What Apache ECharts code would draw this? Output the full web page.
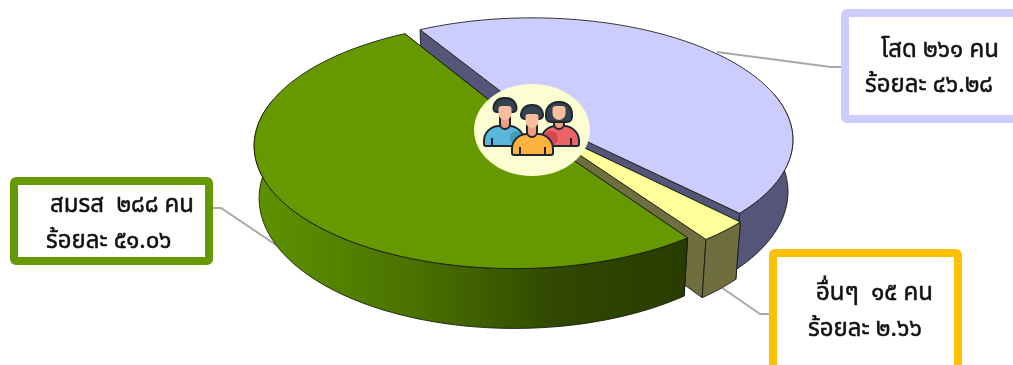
<!DOCTYPE html>
<html>
<head>
<meta charset="utf-8">
<style>html,body{margin:0;padding:0;background:#fff}#main{width:1013px;height:365px}</style>
<script src="https://cdn.jsdelivr.net/npm/echarts@6/dist/echarts.min.js"></script>
</head>
<body>
<div id="main"></div>
<script>
// Marital status of respondents (persons and percent)
const categories = ['โสด', 'อื่นๆ', 'สมรส'];
const counts = [261, 15, 288];
const percents = ['46.28', '2.66', '51.06'];
const unitLabel = 'คน';
const percentLabel = 'ร้อยละ';

const topColors = ['#ccccff', '#ffff99', '#669900'];
const cutColors = ['#55557a', '#6e6e40', '#2c4200'];

// Perspective pie geometry
const view = { cx: 525, cy: 119, rx: 256, ry: 118, k: 0.19, m: 0.018, depth: 52,
               startDeg: -120.7, explode: 0.04 };
const total = counts.reduce((a, b) => a + b, 0);

function project(x, y, z) {
  const s = 1 / (1 - view.k * y + view.m * z);
  return [view.cx + view.rx * x * s, view.cy + view.ry * y * s + view.depth * z * s];
}

const thaiDigits = '๐๑๒๓๔๕๖๗๘๙';
const toThai = (v) => String(v).replace(/\d/g, (d) => thaiDigits[+d]);

function sliceShapes(index, value) {
  const before = counts.slice(0, index).reduce((a, b) => a + b, 0);
  const a0 = (view.startDeg + before / total * 360) * Math.PI / 180;
  const a1 = a0 + value / total * 2 * Math.PI;
  const mid = (a0 + a1) / 2;
  const ox = Math.cos(mid) * view.explode;
  const oy = Math.sin(mid) * view.explode;
  const steps = Math.max(6, Math.ceil((a1 - a0) * 40));
  const angles = [];
  for (let i = 0; i <= steps; i++) angles.push(a0 + (a1 - a0) * i / steps);
  const arc = (list, z) => list.map((t) => project(ox + Math.cos(t), oy + Math.sin(t), z));
  const apex = (z) => project(ox, oy, z);
  const top = arc(angles, 0), bottom = arc(angles, 1);
  // The rim is only seen on the near part of the circle
  const near = angles.filter((t) => Math.sin(t) > -0.2);
  return {
    top: [apex(0)].concat(top),
    side: arc(near, 0).concat(arc(near, 1).reverse()),
    cutA: [apex(0), top[0], bottom[0], apex(1)],
    cutB: [apex(0), top[steps], bottom[steps], apex(1)]
  };
}

const outline = { stroke: 'rgba(20,25,10,0.85)', lineWidth: 1 };

function sideFill(index) {
  if (index !== 2) return cutColors[index];
  return new echarts.graphic.LinearGradient(0, 0, 1, 0, [
    { offset: 0, color: '#5f9300' },
    { offset: 0.35, color: '#4b7400' },
    { offset: 0.7, color: '#304800' },
    { offset: 1, color: '#293c00' }
  ]);
}

function renderSlice(params, api) {
  const i = params.dataIndex;
  const s = sliceShapes(i, api.value(0));
  const poly = (points, fill) => ({ type: 'polygon', shape: { points }, style: Object.assign({ fill }, outline) });
  return {
    type: 'group',
    children: [
      poly(s.cutA, cutColors[i]),
      poly(s.cutB, cutColors[i]),
      poly(s.side, sideFill(i)),
      poly(s.top, topColors[i])
    ]
  };
}

// Label boxes and leader lines
const boxes = [
  { x: 841, y: 9, w: 200, h: 114, color: '#ccccff', cat: 0, tx: 881, ty: 52, px: 865, py: 87,
    leader: [[841, 67], [831, 67], [717, 52]] },
  { x: 769, y: 249, w: 193, h: 140, color: '#ffc000', cat: 1, tx: 816, ty: 295, px: 808, py: 331,
    leader: [[769, 314], [760, 314], [718, 285]] },
  { x: 10, y: 177, w: 203, h: 88, color: '#669900', cat: 2, tx: 50, ty: 207, px: 46, py: 243,
    leader: [[213, 208], [221, 208], [285, 251]] }
];
const font = '24px "Noto Sans Thai", "Noto Sans", "Noto Sans CJK SC", sans-serif';
const gapText = [' ', '  ', '  '];
const textStyle = { font, fill: '#111', stroke: '#111', lineWidth: 0.5, textVerticalAlign: 'middle' };

const graphics = [];
boxes.forEach((b) => {
  graphics.push({ type: 'polyline', z: 1, shape: { points: b.leader }, style: { stroke: '#a8a8a8', lineWidth: 2, fill: null } });
  graphics.push({ type: 'rect', z: 100, shape: { x: b.x + 4, y: b.y + 4, width: b.w - 8, height: b.h - 8, r: 2 },
    style: { fill: '#fff', stroke: b.color, lineWidth: 8 } });
  graphics.push({ type: 'text', z: 101, style: Object.assign({ x: b.tx, y: b.ty,
    text: categories[b.cat] + gapText[b.cat] + toThai(counts[b.cat]) + ' ' + unitLabel }, textStyle) });
  graphics.push({ type: 'text', z: 101, style: Object.assign({ x: b.px, y: b.py,
    text: percentLabel + ' ' + toThai(percents[b.cat]) }, textStyle) });
});

// Centre badge: three people on a pale oval
const ink = '#1d2730', hair = '#34444f', skin = '#f9bd9f';
function person(p, z) {
  const l = { lineWidth: 2, stroke: ink };
  const parts = [];
  parts.push({ type: 'rect', z, shape: { x: p.x0, y: p.shirtTop, width: p.x1 - p.x0, height: p.bottom - p.shirtTop, r: [15, 15, 2, 2] },
    style: Object.assign({ fill: p.shirt }, l) });
  parts.push({ type: 'line', z, shape: { x1: p.x0 + 8, y1: p.bottom - 8, x2: p.x0 + 8, y2: p.bottom }, style: l });
  parts.push({ type: 'line', z, shape: { x1: p.x1 - 8, y1: p.bottom - 8, x2: p.x1 - 8, y2: p.bottom }, style: l });
  parts.push({ type: 'rect', z, shape: { x: p.cx - 5, y: p.faceBottom - 6, width: 10, height: p.shirtTop - p.faceBottom + 9, r: [0, 0, 5, 5] },
    style: Object.assign({ fill: '#ee9f80' }, l) });
  parts.push({ type: 'rect', z, shape: { x: p.cx - p.hairW / 2, y: p.hairTop, width: p.hairW, height: p.hairH, r: [12, 12, p.long ? 5 : 4, p.long ? 5 : 4] },
    style: Object.assign({ fill: hair }, l) });
  parts.push({ type: 'rect', z, shape: { x: p.cx - 6.5, y: p.faceBottom - 14, width: 13, height: 14, r: [3, 3, 7, 7] }, style: { fill: skin } });
  return parts;
}
graphics.push({ type: 'ellipse', z: 110, shape: { cx: 532, cy: 130, rx: 58, ry: 46 }, style: { fill: '#fdfdd2' } });
person({ cx: 559, x0: 541, x1: 579, shirtTop: 126, bottom: 146, shirt: '#ec6468', hairTop: 102, hairW: 26, hairH: 20, faceBottom: 120, long: true }, 111)
  .concat(person({ cx: 505, x0: 484, x1: 524, shirtTop: 126, bottom: 146, shirt: '#5ab6dc', hairTop: 98, hairW: 23, hairH: 14, faceBottom: 120 }, 111))
  .forEach((p) => graphics.push(p));
graphics.push({ type: 'rect', z: 111, shape: { x: 510, y: 131, width: 12, height: 14, r: 7 }, style: { fill: '#3f9fb5' } });
graphics.push({ type: 'rect', z: 111, shape: { x: 544, y: 131, width: 14, height: 14, r: 7 }, style: { fill: '#d04a55' } });
person({ cx: 532, x0: 512, x1: 553, shirtTop: 134, bottom: 155, shirt: '#ffb23e', hairTop: 105, hairW: 22, hairH: 14, faceBottom: 128 }, 112)
  .forEach((p) => graphics.push(p));

const chart = echarts.init(document.getElementById('main'), null, { renderer: 'canvas' });
chart.setOption({
  animation: false,
  backgroundColor: '#fff',
  graphic: { elements: graphics },
  series: [{
    type: 'custom',
    coordinateSystem: 'none',
    z: 5,
    silent: true,
    renderItem: renderSlice,
    data: counts.map((v, i) => ({ name: categories[i], value: [v] }))
  }]
});
</script>
</body>
</html>
